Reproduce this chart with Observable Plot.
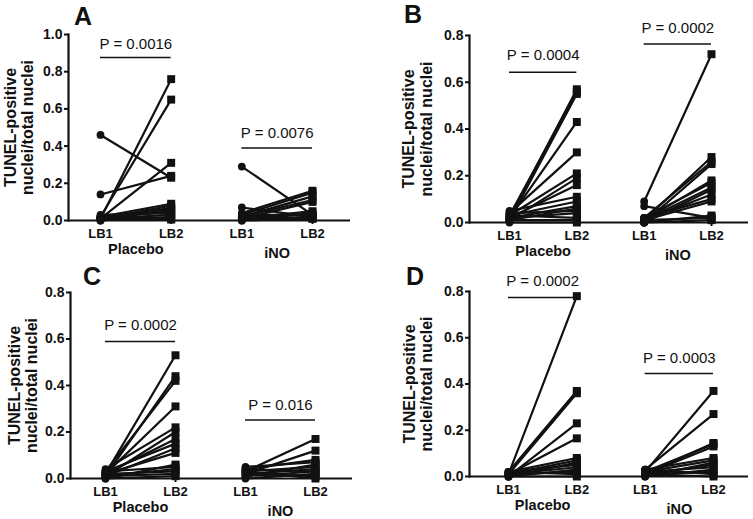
<!DOCTYPE html>
<html><head><meta charset="utf-8">
<script src="https://cdn.jsdelivr.net/npm/d3@7"></script>
<script src="https://cdn.jsdelivr.net/npm/@observablehq/plot@0.6"></script>
<style>
body{margin:0;background:#fff;}
#wrap{position:relative;width:753px;height:519px;font-family:"Liberation Sans",Arial,sans-serif;color:#111;}
.panel{position:absolute;}
.letter{position:absolute;font-weight:bold;font-size:25px;line-height:1;}
svg{overflow:visible;}
</style></head><body><div id="wrap"></div>
<script>
const groups = ["Placebo", "iNO"];
const timepoints = ["LB1", "LB2"];
const yLabel = "TUNEL-positive\nnuclei/total nuclei";

// Panel A
const aPlaceboLB1 = [0.46, 0.14, 0.01, 0.02, 0.01, 0.02, 0.01, 0.00, 0.02, 0.01, 0.03, 0.01, 0.00, 0.02, 0.01];
const aPlaceboLB2 = [0.23, 0.24, 0.76, 0.65, 0.31, 0.09, 0.08, 0.07, 0.06, 0.05, 0.04, 0.03, 0.02, 0.01, 0.005];
const aInoLB1 = [0.29, 0.07, 0.04, 0.03, 0.02, 0.02, 0.01, 0.01, 0.00, 0.03, 0.01, 0.02, 0.00];
const aInoLB2 = [0.03, 0.02, 0.16, 0.15, 0.13, 0.11, 0.10, 0.05, 0.04, 0.03, 0.02, 0.01, 0.01];
const aPLabels = ["P = 0.0016", "P = 0.0076"];
const aPBar = [0.876, 0.39];
const aPText = [0.95, 0.47];

// Panel B
const bPlaceboLB1 = [0.02, 0.03, 0.01, 0.02, 0.04, 0.03, 0.01, 0.02, 0.05, 0.03, 0.02, 0.01, 0.04, 0.02, 0.03, 0.01, 0.00];
const bPlaceboLB2 = [0.57, 0.56, 0.55, 0.43, 0.30, 0.21, 0.19, 0.16, 0.11, 0.09, 0.07, 0.06, 0.05, 0.04, 0.02, 0.01, 0.00];
const bInoLB1 = [0.09, 0.07, 0.01, 0.02, 0.00, 0.01, 0.02, 0.01, 0.00, 0.01, 0.02, 0.01, 0.00, 0.01, 0.00];
const bInoLB2 = [0.72, 0.02, 0.28, 0.26, 0.25, 0.18, 0.17, 0.15, 0.14, 0.12, 0.10, 0.09, 0.03, 0.02, 0.01];
const bPLabels = ["P = 0.0004", "P = 0.0002"];
const bPBar = [0.643, 0.764];
const bPText = [0.714, 0.83];

// Panel C
const cPlaceboLB1 = [0.02, 0.01, 0.03, 0.02, 0.04, 0.01, 0.02, 0.03, 0.01, 0.02, 0.00, 0.03, 0.01, 0.02, 0.01, 0.00];
const cPlaceboLB2 = [0.53, 0.44, 0.42, 0.31, 0.22, 0.20, 0.17, 0.15, 0.13, 0.11, 0.06, 0.05, 0.04, 0.03, 0.02, 0.01];
const cInoLB1 = [0.03, 0.02, 0.04, 0.05, 0.01, 0.03, 0.02, 0.04, 0.01, 0.00, 0.02, 0.03];
const cInoLB2 = [0.17, 0.12, 0.08, 0.07, 0.06, 0.05, 0.04, 0.03, 0.03, 0.02, 0.01, 0.00];
const cPLabels = ["P = 0.0002", "P = 0.016"];
const cPBar = [0.589, 0.252];
const cPText = [0.658, 0.314];

// Panel D
const dPlaceboLB1 = [0.01, 0.02, 0.01, 0.00, 0.01, 0.02, 0.01, 0.00, 0.02, 0.01, 0.00, 0.01, 0.02, 0.00];
const dPlaceboLB2 = [0.78, 0.37, 0.36, 0.23, 0.165, 0.08, 0.07, 0.06, 0.05, 0.04, 0.03, 0.02, 0.01, 0.00];
const dInoLB1 = [0.02, 0.03, 0.01, 0.02, 0.01, 0.03, 0.02, 0.00, 0.01, 0.02, 0.00, 0.01, 0.03, 0.01];
const dInoLB2 = [0.37, 0.27, 0.145, 0.14, 0.13, 0.08, 0.07, 0.06, 0.05, 0.04, 0.03, 0.02, 0.01, 0.00];
const dPLabels = ["P = 0.0002", "P = 0.0003"];
const dPBar = [0.774, 0.445];
const dPText = [0.844, 0.512];

const ink = "#111";

function makeRows(series) {
  const rows = [];
  series.forEach(([lb1, lb2], g) => {
    lb1.forEach((v, i) => {
      rows.push({id: g + "-" + i, t: 0, x: g * 2 + 1, v: v});
      rows.push({id: g + "-" + i, t: 1, x: g * 2 + 2, v: lb2[i]});
    });
  });
  return rows;
}

const panels = [
  {key: "A", left: 0, top: 0, w: 376, h: 260, ymax: 1.0, mL: 68, mT: 34, mB: 40, mR: 26, inL: 32, inR: 38, labDx: -49.5,
   series: [[aPlaceboLB1, aPlaceboLB2], [aInoLB1, aInoLB2]], pl: aPLabels, pb: aPBar, pt: aPText, lx: 74, ly: 4},
  {key: "B", left: 376, top: 0, w: 377, h: 260, ymax: 0.8, mL: 93, mT: 35, mB: 38, mR: 5, inL: 40, inR: 37, labDx: -52,
   series: [[bPlaceboLB1, bPlaceboLB2], [bInoLB1, bInoLB2]], pl: bPLabels, pb: bPBar, pt: bPText, lx: 404, ly: 2},
  {key: "C", left: 0, top: 255, w: 376, h: 264, ymax: 0.8, mL: 70, mT: 37, mB: 41, mR: 24, inL: 35, inR: 37, labDx: -47.5,
   series: [[cPlaceboLB1, cPlaceboLB2], [cInoLB1, cInoLB2]], pl: cPLabels, pb: cPBar, pt: cPText, lx: 83, ly: 264},
  {key: "D", left: 376, top: 255, w: 377, h: 264, ymax: 0.8, mL: 93, mT: 36, mB: 43, mR: 5, inL: 39, inR: 35, labDx: -51.5,
   series: [[dPlaceboLB1, dPlaceboLB2], [dInoLB1, dInoLB2]], pl: dPLabels, pb: dPBar, pt: dPText, lx: 406, ly: 264}
];

const wrap = document.getElementById("wrap");

for (const p of panels) {
  const rows = makeRows(p.series);
  const pRows = p.pl.map((label, g) => ({label, x1: g * 2 + 1, x2: g * 2 + 2, xm: g * 2 + 1.5, bar: p.pb[g], ty: p.pt[g]}));
  const chart = Plot.plot({
    width: p.w, height: p.h,
    marginLeft: p.mL, marginTop: p.mT, marginBottom: p.mB, marginRight: p.mR,
    x: {type: "linear", domain: [1, 4], insetLeft: p.inL, insetRight: p.inR, label: null},
    y: {domain: [0, p.ymax], label: null},
    style: {fontFamily: "'Liberation Sans', Arial, sans-serif", color: ink, background: "transparent", overflow: "visible"},
    marks: [
      Plot.frame({anchor: "left", stroke: ink, strokeWidth: 2.2}),
      Plot.ruleY([0], {stroke: ink, strokeWidth: 2.2}),
      Plot.axisY({ticks: d3.range(0, p.ymax + 0.001, 0.2), tickFormat: d3.format(".1f"), tickSize: 4, tickPadding: 2,
        fontWeight: "bold", fontSize: 14, strokeWidth: 2, label: null}),
      Plot.axisX({ticks: [1, 2, 3, 4], tickFormat: d => timepoints[(d - 1) % 2], tickSize: 4, tickPadding: 4,
        fontWeight: "bold", fontSize: 13, strokeWidth: 2, label: null}),
      Plot.text(groups, {x: (d, i) => i * 2 + 1.5, frameAnchor: "bottom", dy: 28.5, lineAnchor: "middle",
        fontWeight: "bold", fontSize: 14.5, filter: (d, i) => i === 0}),
      Plot.text(groups, {x: (d, i) => i * 2 + 1.5, frameAnchor: "bottom", dy: 33, lineAnchor: "middle",
        fontWeight: "bold", fontSize: 14.5, filter: (d, i) => i === 1}),
      Plot.line(rows, {x: "x", y: "v", z: "id", stroke: ink, strokeWidth: 2.2}),
      Plot.dot(rows.filter(d => d.t === 0), {x: "x", y: "v", r: 3.9, fill: ink, symbol: "circle"}),
      Plot.dot(rows.filter(d => d.t === 1), {x: "x", y: "v", r: 4.5, fill: ink, symbol: "square"}),
      Plot.ruleY(pRows, {y: "bar", x1: "x1", x2: "x2", stroke: ink, strokeWidth: 1.5}),
      Plot.text(pRows, {x: "xm", y: "ty", text: "label", fontSize: 15, lineAnchor: "middle"}),
      Plot.text([yLabel], {frameAnchor: "left", dx: p.labDx, rotate: -90, text: d => d, fontSize: 16,
        fontWeight: "bold", lineHeight: 1.07, textAnchor: "middle", lineAnchor: "middle"})
    ]
  });
  const div = document.createElement("div");
  div.className = "panel";
  div.style.left = p.left + "px";
  div.style.top = p.top + "px";
  div.appendChild(chart);
  wrap.appendChild(div);
  const letter = document.createElement("div");
  letter.className = "letter";
  letter.style.left = p.lx + "px";
  letter.style.top = p.ly + "px";
  letter.textContent = p.key;
  wrap.appendChild(letter);
}
</script>
</body></html>
